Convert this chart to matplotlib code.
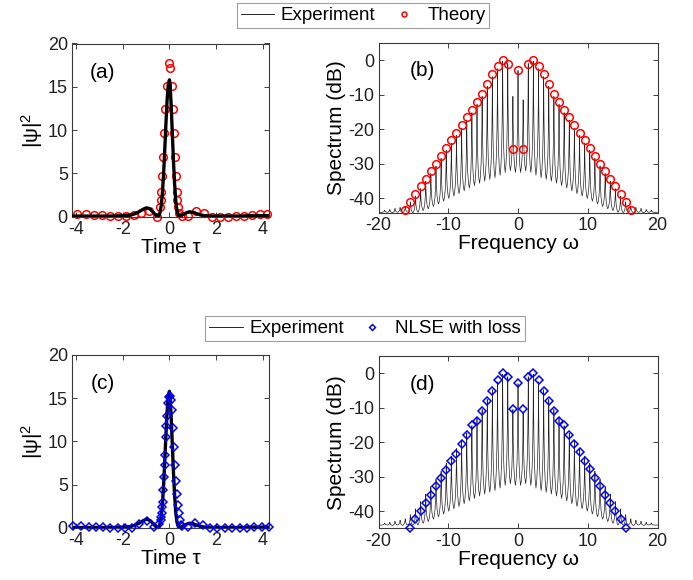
import matplotlib
matplotlib.use("Agg")
import matplotlib.pyplot as plt
from matplotlib.lines import Line2D

plt.rcParams.update({
    "font.family": ["Liberation Sans", "DejaVu Sans"],
    "mathtext.fontset": "custom",
    "mathtext.rm": "Liberation Sans",
    "mathtext.it": "Liberation Sans:italic",
    "axes.unicode_minus": False,
})

# ---- time domain: measured intensity profile (same trace in (a) and (c))
exp_tau = [-4.2, -3.5, -3.0, -2.5, -2.0, -1.7, -1.5, -1.3, -1.15, -1.0, -0.9, -0.8,
           -0.7, -0.6, -0.52, -0.45, -0.4, -0.35, -0.3, -0.25, -0.2, -0.15, -0.1,
           -0.05, 0.0, 0.03, 0.07, 0.12, 0.17, 0.22, 0.27, 0.32, 0.38, 0.45, 0.55,
           0.7, 0.85, 1.0, 1.15, 1.3, 1.5, 1.8, 2.2, 3.0, 3.5, 4.3]
exp_int = [0.05, 0.05, 0.05, 0.05, 0.1, 0.15, 0.3, 0.55, 0.8, 1.0, 0.95, 0.8,
           0.5, 0.2, 0.05, 0.1, 0.5, 1.3, 2.8, 5.0, 7.8, 10.8, 13.5,
           15.3, 15.8, 15.2, 13.0, 9.8, 6.5, 3.8, 1.8, 0.7, 0.15, 0.05, 0.2,
           0.4, 0.55, 0.5, 0.35, 0.2, 0.1, 0.05, 0.05, 0.05, 0.1, 0.1]

# theory markers, panel (a)
theory_tau = [-3.96, -3.59, -3.23, -2.89, -2.56, -2.21, -1.88, -1.53, -1.21, -0.89, -0.54,
              -0.41, -0.38, -0.36, -0.34, -0.27, -0.23, -0.20, -0.10,
              -0.01, 0.02,
              0.11, 0.15, 0.21, 0.25, 0.27, 0.31, 0.34, 0.38, 0.41,
              0.55, 0.79, 1.15, 1.48, 1.82, 2.15, 2.50, 2.83, 3.19, 3.53, 3.86, 4.18]
theory_int = [0.3, 0.25, 0.2, 0.15, 0.1, 0.05, 0.05, 0.2, 0.45, 0.65, 0.0,
              1.09, 1.86, 2.84, 4.66, 6.9, 9.6, 12.4, 15.07,
              17.8, 17.2,
              15.07, 12.4, 9.6, 6.9, 4.66, 2.84, 1.86, 1.09, 0.39,
              0.1, 0.1, 0.6, 0.4, 0.0, 0.0, 0.0, 0.05, 0.1, 0.2, 0.25, 0.3]

# NLSE-with-loss markers, panel (c)
nlse_tau = [-4.11, -3.79, -3.46, -3.14, -2.83, -2.53, -2.20, -1.90, -1.60, -1.29, -0.97, -0.67, -0.45,
            -0.38, -0.36, -0.33, -0.30, -0.28, -0.26, -0.23, -0.20, -0.18, -0.16, -0.13, -0.10, -0.06,
            -0.01, 0.03,
            0.06, 0.11, 0.16, 0.20, 0.24, 0.29, 0.33, 0.36, 0.40, 0.44, 0.48,
            0.55, 0.81, 1.11, 1.43, 1.74, 2.04, 2.37, 2.69, 3.00, 3.31, 3.63, 3.94, 4.26]
nlse_int = [0.2, 0.2, 0.15, 0.1, 0.1, 0.0, 0.0, 0.0, 0.05, 0.45, 0.75, 0.1, 0.5,
            0.9, 1.3, 1.7, 2.4, 3.0, 4.4, 5.9, 7.3, 8.4, 10.5, 11.8, 13.0, 14.4,
            15.1, 15.3,
            14.8, 13.6, 11.6, 9.4, 7.3, 5.4, 3.9, 2.6, 1.7, 0.9, 0.4,
            0.2, 0.1, 0.6, 0.4, 0.0, 0.0, 0.0, 0.05, 0.05, 0.05, 0.1, 0.1, 0.1]

# ---- spectra: comb line positions (orders 0..26), mirrored to negative side
comb_freq_pos = [0.0, 0.735, 1.47, 2.205, 2.94, 3.675, 4.41, 5.145, 5.88, 6.615,
                 7.35, 8.085, 8.82, 9.555, 10.29, 11.025, 11.76, 12.495, 13.23,
                 13.965, 14.7, 15.435, 16.17, 16.905, 17.64, 18.375, 19.11]
comb_freq = [-f for f in reversed(comb_freq_pos[1:])] + comb_freq_pos

# measured comb: peak level of each line (order -26..26), dB
comb_peak_db = [-43.4, -43.2, -42.9, -42.6, -42.2, -41.0, -39.3, -37.2, -35.0, -32.8,
                -30.6, -28.4, -26.1, -24.0, -21.8, -19.7, -17.4, -15.2, -12.8, -10.5,
                -7.6, -4.8, -2.5, -0.3, -1.0, -10.5,
                -3.0,
                -11.5, -1.0, -0.3, -2.5, -4.8, -7.6, -10.5, -12.8, -15.2, -17.4,
                -19.7, -21.8, -24.0, -26.1, -28.4, -30.6, -32.8, -35.0, -37.2,
                -39.3, -41.0, -42.2, -42.6, -42.9, -43.2, -43.4]
# level between neighbouring lines, from the centre outwards, dB
gap_db_pos = [-32.5, -32.0, -32.5, -33.3, -34.0, -34.5, -35.0, -35.6, -36.3, -37.0,
              -37.8, -38.6, -39.3, -40.0, -40.8, -41.6, -42.3, -43.0, -43.5, -44.0,
              -44.1, -44.0, -44.1, -44.0, -44.1, -44.0]
floor_db = -44.0
comb_gap_db = [floor_db] + list(reversed(gap_db_pos)) + gap_db_pos + [floor_db]

# theory spectrum (b), orders -22..22
theory_freq = comb_freq[4:-4]
theory_db = [-43.2, -41.0, -38.7, -36.4, -34.3, -32.0, -29.9, -27.6, -25.3, -23.1, -21.0,
             -18.9, -16.6, -14.4, -12.0, -9.8, -6.9, -4.0, -1.7, 0.0, -1.0, -25.6,
             -3.0,
             -25.6, -1.0, 0.0, -1.7, -4.0, -6.9, -9.8, -12.0, -14.4, -16.6, -18.9,
             -21.0, -23.1, -25.3, -27.6, -29.9, -32.0, -34.3, -36.4, -38.7, -41.0, -43.2]

# NLSE spectrum (d), orders -21..21
nlse_freq = comb_freq[5:-5]
nlse_db = [-45.0, -42.3, -39.9, -37.5, -35.4, -32.8, -30.3, -27.9, -25.4, -23.5, -20.4,
           -18.0, -15.1, -13.9, -11.0, -8.1, -5.0, -2.1, 0.0, -1.0, -10.4,
           -2.9,
           -10.4, -1.0, 0.0, -2.1, -5.0, -8.1, -11.0, -13.9, -15.1, -18.0, -20.4,
           -22.8, -25.5, -27.8, -30.4, -32.8, -35.2, -37.5, -40.0, -42.3, -44.9]

# shape of one comb tooth: distance from its centre (in line spacings) and
# fraction of the way from peak down to the neighbouring gap level
tooth_dx = [0.5, 0.35, 0.2, 0.1, 0.04, 0.0]
tooth_drop = [1.0, 0.93, 0.78, 0.55, 0.3, 0.0]


def comb_trace(freqs, peaks, gaps, fmin, fmax):
    d = freqs[1] - freqs[0]
    xs, ys = [fmin], [gaps[0]]
    for i, (f, p) in enumerate(zip(freqs, peaks)):
        gl, gr = gaps[i], gaps[i + 1]
        for dx, dr in zip(tooth_dx, tooth_drop):
            xs.append(f - dx * d)
            ys.append(p + dr * (gl - p))
        for dx, dr in zip(reversed(tooth_dx[:-1]), reversed(tooth_drop[:-1])):
            xs.append(f + dx * d)
            ys.append(p + dr * (gr - p))
    xs.append(fmax)
    ys.append(gaps[-1])
    return xs, ys


def style_axes(ax, xlim, ylim, xticks, yticks):
    ax.set_xlim(xlim)
    ax.set_ylim(ylim)
    ax.set_xticks(xticks)
    ax.set_yticks(yticks)
    ax.tick_params(direction="in", top=True, right=True, length=3.5, width=0.6,
                   labelsize=13, pad=3, colors="#222222")
    for s in ax.spines.values():
        s.set_color("#3a3a3a")
        s.set_linewidth(0.8)


fig = plt.figure(figsize=(6.93, 5.80), dpi=100)
ax_a = fig.add_axes([0.1039, 0.6267, 0.2843, 0.2983])
ax_b = fig.add_axes([0.5462, 0.6322, 0.4026, 0.2941])
ax_c = fig.add_axes([0.1039, 0.0897, 0.2843, 0.2983])
ax_d = fig.add_axes([0.5462, 0.0888, 0.4026, 0.2974])

red = "#ff0000"
blue = "#0000ff"

# (a)
ax_a.plot(theory_tau, theory_int, "o", ms=5.5, mfc="none", mec=red, mew=1.1,
          clip_on=False, zorder=2)
ax_a.plot(exp_tau, exp_int, color="k", lw=2.4, zorder=3)
style_axes(ax_a, (-4.17, 4.26), (0, 20), [-4, -2, 0, 2, 4], [0, 5, 10, 15, 20])

# (c)
ax_c.plot(exp_tau, exp_int, color="k", lw=2.4, zorder=2)
ax_c.plot(nlse_tau, nlse_int, "D", ms=4.3, mfc="none", mec=blue, mew=1.1,
          clip_on=False, zorder=3)
style_axes(ax_c, (-4.17, 4.26), (0, 20), [-4, -2, 0, 2, 4], [0, 5, 10, 15, 20])

for ax in (ax_a, ax_c):
    ax.set_xlabel("Time τ", fontsize=15, labelpad=0)
    ax.set_ylabel(r"$\mathregular{|ψ|^2}$", fontsize=15, labelpad=2)

# (b) and (d)
sx, sy = comb_trace(comb_freq, comb_peak_db, comb_gap_db, -20, 20)
ax_b.plot(sx, sy, color="#262626", lw=0.5, zorder=2)
ax_b.plot(theory_freq, theory_db, "o", ms=5.5, mfc="none", mec=red, mew=1.1,
          clip_on=False, zorder=3)
style_axes(ax_b, (-20, 20), (-44.3, 5), [-20, -10, 0, 10, 20], [-40, -30, -20, -10, 0])

ax_d.plot(sx, sy, color="#262626", lw=0.5, zorder=2)
ax_d.plot(nlse_freq, nlse_db, "D", ms=4.3, mfc="none", mec=blue, mew=1.1,
          clip_on=False, zorder=3)
style_axes(ax_d, (-20, 20), (-45, 5), [-20, -10, 0, 10, 20], [-40, -30, -20, -10, 0])

for ax in (ax_b, ax_d):
    ax.set_xlabel("Frequency ω", fontsize=15, labelpad=0)
    ax.set_ylabel("Spectrum (dB)", fontsize=15, labelpad=2)

for ax, tag in zip((ax_a, ax_b, ax_c, ax_d), ("(a)", "(b)", "(c)", "(d)")):
    ax.text(0.157, 0.835, tag, transform=ax.transAxes, fontsize=15,
            ha="center", va="center")

# legends
h_exp = Line2D([], [], color="k", lw=0.6)
h_th = Line2D([], [], color=red, marker="o", ls="none", ms=3.5, mfc="none", mew=1.1)
h_nl = Line2D([], [], color=blue, marker="D", ls="none", ms=3.0, mfc="none", mew=1.1)
leg_kw = dict(loc="center", ncol=2, frameon=True, fancybox=False, fontsize=13.5,
              handlelength=1.8, handletextpad=0.35, columnspacing=0.6,
              borderpad=0.2, borderaxespad=0)
lg1 = fig.legend([h_exp, h_th], ["Experiment", "Theory"],
                 bbox_to_anchor=(363 / 693, 1 - 15.5 / 580), **leg_kw)
lg2 = fig.legend([h_exp, h_nl], ["Experiment", "NLSE with loss"],
                 bbox_to_anchor=(365 / 693, 1 - 328.5 / 580), **leg_kw)
for lg in (lg1, lg2):
    lg.get_frame().set_edgecolor("#888888")
    lg.get_frame().set_linewidth(0.8)

fig.savefig("out.png", dpi=100)
